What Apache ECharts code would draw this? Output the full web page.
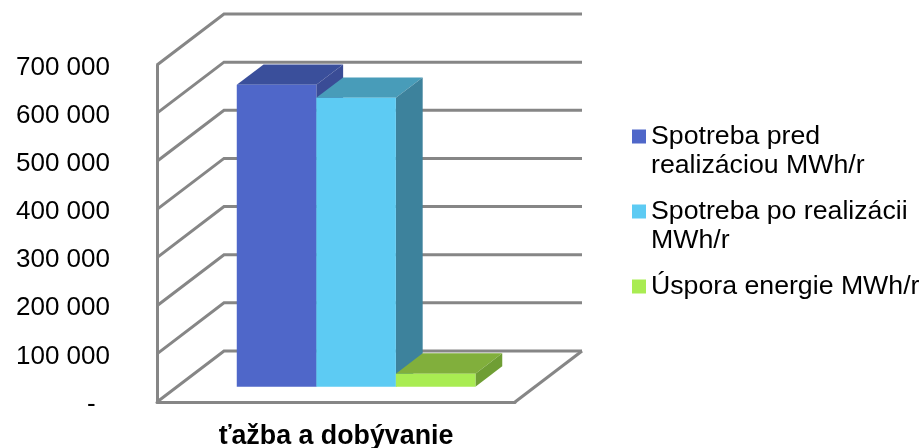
<!DOCTYPE html>
<html>
<head>
<meta charset="utf-8">
<style>
html, body { margin: 0; padding: 0; background: #fff; }
#data { width: 924px; height: 448px; }
</style>
<script src="https://cdn.jsdelivr.net/npm/echarts@6/dist/echarts.min.js"></script>
</head>
<body>
<div id="data"></div>
<script>
var categories = ['ťažba a dobývanie'];
var seriesNames = ['Spotreba pred\nrealizáciou MWh/r', 'Spotreba po realizácii\nMWh/r', 'Úspora energie MWh/r'];
var seriesValues = [[627000], [600000], [27000]];
var yTicks = [0, 100000, 200000, 300000, 400000, 500000, 600000, 700000];
var yLabels = ['-\u00a0\u00a0', '100 000', '200 000', '300 000', '400 000', '500 000', '600 000', '700 000'];
var frontColors = ['#4f67c9', '#5dcbf3', '#a9ec52'];
var topColors = ['#3a4f9b', '#489cb9', '#81af3c'];
var sideColors = ['#3a4c96', '#3d829c', '#6f9e34'];

var FONT = '"Liberation Sans", Arial, sans-serif';
var GRID_COLOR = '#868686';
// depth of the fake 3d box, in pixels
var DEPTH_X = 67;
var DEPTH_Y = 51;
var BAR_NEAR = 0.3;
var BAR_FAR = 0.7;
var GAP_WIDTH = 0.75;

function wallItem(params, api) {
  var cs = params.coordSys;
  var y = api.coord([0, api.value(0)])[1];
  var x0 = cs.x;
  var x1 = cs.x + cs.width;
  var shape = {
    points: [[x0, y], [x0 + DEPTH_X, y - DEPTH_Y], [x1 + DEPTH_X, y - DEPTH_Y]]
  };
  var children = [{
    type: 'polyline',
    shape: shape,
    style: { fill: null, stroke: GRID_COLOR, lineWidth: 3 }
  }];
  if (api.value(0) === 0) {
    // right edge of the floor
    children.push({
      type: 'line',
      shape: { x1: x1, y1: y, x2: x1 + DEPTH_X, y2: y - DEPTH_Y },
      style: { stroke: GRID_COLOR, lineWidth: 3 }
    });
  }
  return { type: 'group', children: children };
}

function barItem(index) {
  return function (params, api) {
    var base = api.coord([api.value(0), 0]);
    var top = api.coord([api.value(0), api.value(1)]);
    var w = api.size([1, 0])[0] / (seriesValues.length + 2 * GAP_WIDTH);
    var nx = DEPTH_X * BAR_NEAR, ny = DEPTH_Y * BAR_NEAR;
    var fx = DEPTH_X * BAR_FAR, fy = DEPTH_Y * BAR_FAR;
    var l = base[0] + (index - seriesValues.length / 2) * w + nx;
    var r = l + w;
    var yb = base[1] - ny;
    var yt = top[1] - ny;
    var d = fx - nx, e = fy - ny;
    return {
      type: 'group',
      children: [{
        type: 'polygon',
        shape: { points: [[l, yt], [r, yt], [r + d, yt - e], [l + d, yt - e]] },
        style: { fill: topColors[index] }
      }, {
        type: 'polygon',
        shape: { points: [[r, yt], [r + d, yt - e], [r + d, yb - e], [r, yb]] },
        style: { fill: sideColors[index] }
      }, {
        type: 'rect',
        shape: { x: l, y: yt, width: w, height: yb - yt },
        style: { fill: frontColors[index] }
      }]
    };
  };
}

var series = [{
  type: 'custom',
  silent: true,
  clip: false,
  renderItem: wallItem,
  data: yTicks.map(function (v) { return [v]; }),
  encode: { y: 0 },
  z: 1
}];
seriesNames.forEach(function (name, i) {
  series.push({
    name: name,
    type: 'custom',
    clip: false,
    renderItem: barItem(i),
    itemStyle: { color: frontColors[i] },
    data: seriesValues[i].map(function (v, k) { return [k, v]; }),
    encode: { x: 0, y: 1 },
    z: 3
  });
});

var legendTops = [93, 168, 272];
var legends = seriesNames.map(function (name, i) {
  return {
    left: 632,
    top: legendTops[i],
    orient: 'vertical',
    selectedMode: false,
    icon: 'rect',
    itemWidth: 14,
    itemHeight: 14,
    itemGap: 0,
    padding: 0,
    data: [{ name: name, itemStyle: { color: frontColors[i] } }],
    // blank first line keeps the marker level with the first text line
    formatter: function (n) {
      return n.indexOf('\n') >= 0 ? '\n' + n : n;
    },
    textStyle: {
      fontFamily: FONT,
      fontSize: 26.7,
      lineHeight: 29,
      color: '#000'
    }
  };
});

var chart = echarts.init(document.getElementById('data'), null, { renderer: 'canvas' });
chart.setOption({
  animation: false,
  backgroundColor: '#fff',
  legend: legends,
  grid: { left: 157, top: 65, width: 358, height: 337, outerBoundsMode: 'none' },
  xAxis: {
    type: 'category',
    data: categories,
    axisTick: { show: false },
    axisLine: { lineStyle: { color: GRID_COLOR, width: 3 } },
    axisLabel: {
      margin: 21,
      fontFamily: FONT,
      fontSize: 26.8,
      fontWeight: 'bold',
      color: '#000'
    }
  },
  yAxis: {
    type: 'value',
    min: 0,
    max: 700000,
    interval: 100000,
    splitLine: { show: false },
    axisTick: { show: false },
    axisLine: { show: true, lineStyle: { color: GRID_COLOR, width: 3 } },
    axisLabel: {
      margin: 47,
      fontFamily: FONT,
      fontSize: 26,
      color: '#000',
      // small line height with top align pushes the digits down to match the tick rows
      verticalAlign: 'top',
      lineHeight: 5,
      formatter: function (value) {
        return yLabels[yTicks.indexOf(value)];
      }
    }
  },
  series: series
});
</script>
</body>
</html>
